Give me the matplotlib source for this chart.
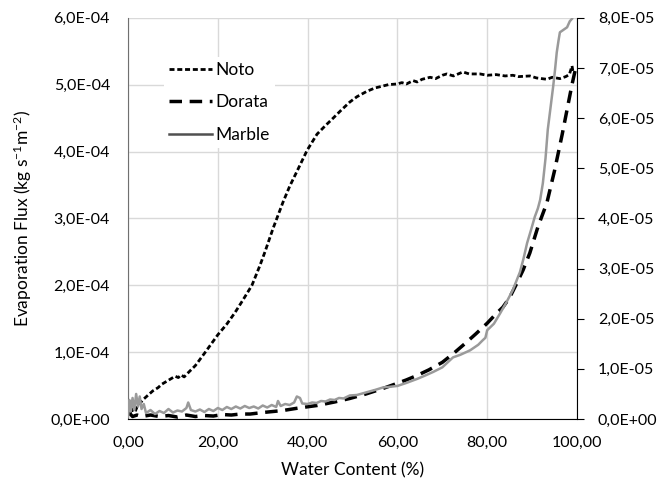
import matplotlib
matplotlib.use('Agg')
import matplotlib.pyplot as plt
from matplotlib.lines import Line2D
from matplotlib.ticker import FuncFormatter

plt.rcParams['font.family'] = ['Lato', 'DejaVu Sans']
plt.rcParams['mathtext.fontset'] = 'custom'
plt.rcParams['mathtext.rm'] = 'Lato'
plt.rcParams['mathtext.default'] = 'regular'

# Noto - left axis (x1e-4 kg s-1 m-2)
noto_x = [0, 0.3, 0.6, 1.0, 1.5, 2.0, 2.7, 3.5, 4.5, 5.5, 6.7, 7.5, 8.5, 9.5, 10.5,
          11.2, 11.8, 12.5, 13.5, 15, 17.1, 20, 22, 23.8, 25.5, 27.6, 29.4, 30.5,
          32.3, 34.5, 36, 37.6, 39.9, 42.1, 44, 45.7, 47.5, 49.4, 51, 53.2, 55,
          56.8, 58, 59.9, 61, 62, 63.5, 64.4, 65.5, 67.3, 68.5, 70, 71, 72.5, 74.6,
          76, 78.4, 80, 82, 84, 85.7, 87, 89.5, 91, 93.3, 94.5, 96.2, 97.5, 98.3,
          98.9, 99.1]
noto_y = [0.05, 0.22, 0.08, 0.15, 0.10, 0.18, 0.24, 0.30, 0.36, 0.42, 0.47, 0.52,
          0.56, 0.60, 0.64, 0.62, 0.66, 0.63, 0.70, 0.80, 0.99, 1.26, 1.42, 1.59,
          1.77, 2.00, 2.30, 2.50, 2.85, 3.24, 3.48, 3.70, 4.02, 4.26, 4.39, 4.50,
          4.62, 4.74, 4.82, 4.90, 4.95, 4.98, 5.00, 5.01, 5.03, 5.01, 5.06, 5.04,
          5.08, 5.11, 5.09, 5.14, 5.16, 5.13, 5.19, 5.16, 5.16, 5.14, 5.15, 5.13,
          5.14, 5.12, 5.13, 5.10, 5.08, 5.11, 5.09, 5.12, 5.15, 5.28, 5.20]

# Dorata - right axis (x1e-5)
dorata_x = [0, 1, 2, 3, 5, 7, 9, 11, 13, 15, 17, 19, 21, 23, 25, 27.2, 30, 34.5,
            38, 42.1, 46, 49.4, 53, 56.8, 59.9, 62, 64.4, 67, 70, 72.4, 75, 77.5,
            80, 82, 83.5, 85, 86.4, 88, 89.5, 91.3, 93.3, 95, 96.7, 97.8, 98.9, 99.6]
dorata_y = [0.15, 0.05, 0.08, 0.05, 0.08, 0.05, 0.07, 0.04, 0.08, 0.05, 0.07, 0.06,
            0.09, 0.08, 0.10, 0.10, 0.13, 0.17, 0.22, 0.27, 0.34, 0.41, 0.50, 0.61,
            0.71, 0.78, 0.87, 0.98, 1.13, 1.30, 1.50, 1.70, 1.91, 2.10, 2.23, 2.42,
            2.67, 2.97, 3.31, 3.83, 4.31, 4.95, 5.67, 6.17, 6.67, 6.95]

# Marble - right axis (x1e-5)
marble_x = [0, 0.3, 0.6, 1.0, 1.4, 1.8, 2.2, 2.6, 3.0, 3.5, 4, 5, 6, 7, 8, 9, 10,
            11, 12, 13, 13.4, 14, 15, 16, 17, 18, 19, 20, 21, 22, 23, 24, 25, 26,
            27, 28, 29, 30, 31, 32, 33, 33.4, 34, 35, 36, 37, 37.6, 38.3, 38.8, 40,
            41, 42, 43, 44, 45, 46, 47, 48, 49.4, 51, 53, 55, 56.8, 58, 60, 62,
            64.4, 66, 68, 70, 72.4, 74, 76.2, 78, 79, 79.6, 80, 81.5, 82.9, 84.3,
            85.7, 86.5, 87.3, 88.1, 88.9, 89.8, 90.6, 91.3, 91.8, 92.4, 93.0, 93.5,
            94.1, 94.7, 95.1, 95.5, 95.9, 96.2, 97, 97.8, 98.4, 98.9]
marble_y = [0.05, 0.38, 0.15, 0.42, 0.18, 0.50, 0.25, 0.45, 0.20, 0.30, 0.12, 0.18,
            0.10, 0.16, 0.12, 0.20, 0.13, 0.17, 0.15, 0.22, 0.33, 0.18, 0.15, 0.19,
            0.14, 0.20, 0.16, 0.22, 0.18, 0.24, 0.20, 0.25, 0.21, 0.26, 0.22, 0.25,
            0.21, 0.27, 0.23, 0.28, 0.24, 0.36, 0.26, 0.30, 0.28, 0.33, 0.45, 0.42,
            0.31, 0.30, 0.33, 0.32, 0.36, 0.35, 0.39, 0.38, 0.42, 0.41, 0.47, 0.48,
            0.53, 0.58, 0.63, 0.64, 0.66, 0.72, 0.80, 0.86, 0.94, 1.03, 1.23, 1.28,
            1.37, 1.48, 1.57, 1.62, 1.77, 1.90, 2.11, 2.33, 2.57, 2.75, 2.93, 3.20,
            3.51, 3.78, 4.03, 4.20, 4.37, 4.70, 5.20, 5.77, 6.20, 6.63, 6.95, 7.31,
            7.55, 7.71, 7.76, 7.81, 7.93, 7.98]

x_ticks = [0, 20, 40, 60, 80, 100]
left_ticks = [0, 1e-4, 2e-4, 3e-4, 4e-4, 5e-4, 6e-4]
right_ticks = [0, 1e-5, 2e-5, 3e-5, 4e-5, 5e-5, 6e-5, 7e-5, 8e-5]


def sci_comma(v, pos):
    return f'{v:.1E}'.replace('.', ',')


def dec_comma(v, pos):
    return f'{v:.2f}'.replace('.', ',')


fig = plt.figure(figsize=(6.67, 4.8), dpi=100)
ax = fig.add_axes([0.192, 0.127, 0.673, 0.836])
ax2 = ax.twinx()

ax.plot(noto_x, [v * 1e-4 for v in noto_y], color='black', lw=2,
        dashes=(1.8, 1.0))
ax2.plot(dorata_x, [v * 1e-5 for v in dorata_y], color='black', lw=2.5,
         dashes=(3.6, 2.2))
ax2.plot(marble_x, [v * 1e-5 for v in marble_y], color='#9a9a9a', lw=1.8)

ax.set_xlim(0, 100)
ax.set_ylim(0, 6e-4)
ax2.set_ylim(0, 8e-5)
ax.set_xticks(x_ticks)
ax.set_yticks(left_ticks)
ax2.set_yticks(right_ticks)
ax.xaxis.set_major_formatter(FuncFormatter(dec_comma))
ax.yaxis.set_major_formatter(FuncFormatter(sci_comma))
ax2.yaxis.set_major_formatter(FuncFormatter(sci_comma))

ax.grid(color='#d9d9d9', lw=1)
ax.set_axisbelow(True)
for a in (ax, ax2):
    for s in a.spines.values():
        s.set_visible(False)
ax.spines['left'].set_visible(True)
ax.spines['left'].set_color('#707070')
ax.spines['bottom'].set_visible(True)
ax.spines['bottom'].set_color('black')
ax2.spines['right'].set_visible(True)
ax2.spines['right'].set_color('black')

ax.tick_params(axis='y', length=0, labelsize=11.5, pad=13)
ax.tick_params(axis='x', length=0, labelsize=11.5, pad=12)
ax2.tick_params(axis='y', length=5, direction='out', labelsize=11.5, pad=10)

ax.set_xlabel('Water Content (%)', fontsize=12.5, labelpad=9)
ax.set_ylabel(r'Evaporation Flux (kg s$^{-1}$m$^{-2}$)', fontsize=12.5,
              labelpad=12)

handles = [Line2D([], [], color='black', lw=2, dashes=(1.8, 1.0)),
           Line2D([], [], color='black', lw=2.5, dashes=(3.6, 2.2)),
           Line2D([], [], color='#505050', lw=1.8)]
leg = ax2.legend(handles, ['Noto', 'Dorata', 'Marble'], loc='upper left',
                 bbox_to_anchor=(0.06, 0.925), frameon=True, fontsize=12.5,
                 handlelength=2.5, handletextpad=0.2, labelspacing=0.95,
                 borderpad=0.3)
leg.get_frame().set_facecolor('white')
leg.get_frame().set_edgecolor('none')
leg.get_frame().set_alpha(1)

fig.savefig('out.png', dpi=100)
